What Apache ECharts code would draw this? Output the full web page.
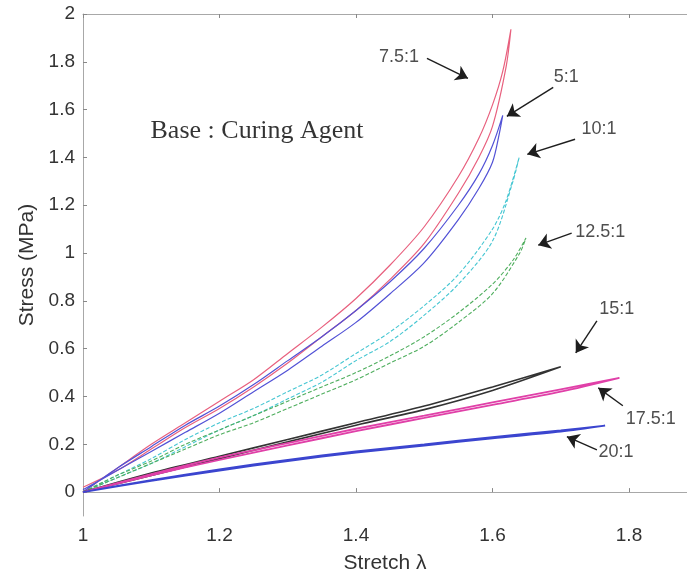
<!DOCTYPE html>
<html>
<head>
<meta charset="utf-8">
<title>Stress vs Stretch</title>
<script src="https://cdn.jsdelivr.net/npm/echarts@6/dist/echarts.min.js"></script>
<style>
  html, body { margin: 0; padding: 0; background: #fff; }
  #chart { width: 687px; height: 579px; }
</style>
</head>
<body>
<div id="chart"></div>
<script>
// Tick labels
const xTicks = [1, 1.2, 1.4, 1.6, 1.8];
const yTicks = [0, 0.2, 0.4, 0.6, 0.8, 1, 1.2, 1.4, 1.6, 1.8, 2];

// Base : curing agent ratios
const ratios = ['7.5:1', '5:1', '10:1', '12.5:1', '15:1', '17.5:1', '20:1'];

// Loading branch [stretch, stress MPa] and unloading branch for each ratio
const load75 = [[1.0,0.0],[1.05,0.10],[1.1,0.20],[1.15,0.29],[1.2,0.38],[1.25,0.47],[1.3,0.58],[1.35,0.69],[1.4,0.81],[1.45,0.95],[1.5,1.11],[1.55,1.32],[1.58,1.48],[1.6,1.62],[1.615,1.76],[1.627,1.936]];
const unload75 = [[1.627,1.936],[1.62,1.78],[1.6,1.53],[1.58,1.40],[1.55,1.25],[1.5,1.04],[1.45,0.89],[1.4,0.76],[1.35,0.65],[1.3,0.54],[1.25,0.44],[1.2,0.35],[1.15,0.27],[1.1,0.18],[1.05,0.09],[1.0,0.02]];

const load5 = [[1.0,0.0],[1.05,0.10],[1.1,0.19],[1.15,0.28],[1.2,0.36],[1.25,0.45],[1.3,0.55],[1.35,0.65],[1.4,0.76],[1.45,0.88],[1.5,1.02],[1.55,1.20],[1.58,1.33],[1.6,1.45],[1.615,1.576]];
const unload5 = [[1.615,1.576],[1.61,1.50],[1.6,1.38],[1.58,1.27],[1.55,1.14],[1.5,0.96],[1.45,0.83],[1.4,0.71],[1.35,0.61],[1.3,0.51],[1.25,0.42],[1.2,0.33],[1.15,0.25],[1.1,0.17],[1.05,0.09],[1.0,0.01]];

const load10 = [[1.0,0.0],[1.05,0.07],[1.1,0.14],[1.15,0.22],[1.2,0.29],[1.25,0.35],[1.3,0.42],[1.35,0.49],[1.4,0.58],[1.45,0.67],[1.5,0.78],[1.55,0.91],[1.6,1.10],[1.62,1.22],[1.639,1.40]];
const unload10 = [[1.639,1.40],[1.63,1.30],[1.6,1.05],[1.55,0.87],[1.5,0.74],[1.45,0.63],[1.4,0.55],[1.35,0.46],[1.3,0.39],[1.25,0.32],[1.2,0.26],[1.15,0.19],[1.1,0.12],[1.05,0.06],[1.0,0.0]];

const load125 = [[1.0,0.0],[1.05,0.07],[1.1,0.13],[1.15,0.20],[1.2,0.26],[1.25,0.32],[1.3,0.38],[1.35,0.44],[1.4,0.50],[1.45,0.57],[1.5,0.65],[1.55,0.75],[1.6,0.87],[1.63,0.97],[1.649,1.063]];
const unload125 = [[1.649,1.063],[1.64,1.0],[1.6,0.83],[1.55,0.71],[1.5,0.61],[1.45,0.54],[1.4,0.47],[1.35,0.41],[1.3,0.35],[1.25,0.29],[1.2,0.24],[1.15,0.18],[1.1,0.12],[1.05,0.06],[1.0,0.0]];

const load15 = [[1.0,0.0],[1.1,0.08],[1.2,0.15],[1.3,0.22],[1.4,0.29],[1.5,0.36],[1.6,0.44],[1.7,0.524]];
const unload15 = [[1.7,0.524],[1.6,0.425],[1.5,0.345],[1.4,0.28],[1.3,0.21],[1.2,0.14],[1.1,0.07],[1.0,0.0]];

const load175 = [[1.0,0.0],[1.1,0.075],[1.2,0.145],[1.3,0.205],[1.4,0.265],[1.5,0.32],[1.6,0.375],[1.7,0.43],[1.786,0.478]];
const unload175 = [[1.786,0.478],[1.7,0.42],[1.6,0.365],[1.5,0.31],[1.4,0.255],[1.3,0.195],[1.2,0.135],[1.1,0.07],[1.0,0.0]];

const load20 = [[1.0,0.0],[1.1,0.05],[1.2,0.095],[1.3,0.135],[1.4,0.17],[1.5,0.20],[1.6,0.23],[1.7,0.258],[1.765,0.278]];
const unload20 = [[1.765,0.278],[1.7,0.253],[1.6,0.225],[1.5,0.195],[1.4,0.165],[1.3,0.13],[1.2,0.09],[1.1,0.047],[1.0,0.0]];

const loops = [
  [load75, unload75], [load5, unload5], [load10, unload10], [load125, unload125],
  [load15, unload15], [load175, unload175], [load20, unload20]
];

// Drawing styles per ratio
const styles = [
  { color: '#e8607e', width: 1.2, type: 'solid' },
  { color: '#5252d6', width: 1.2, type: 'solid' },
  { color: '#45c6d2', width: 1.1, type: [4, 2] },
  { color: '#4fae5e', width: 1.1, type: [4, 2] },
  { color: '#333333', width: 1.6, type: 'solid' },
  { color: '#e040a8', width: 1.8, type: 'solid' },
  { color: '#3b45cf', width: 1.8, type: 'solid' }
];

// Callout layout in chart units: label centre, arrow tail, arrow head
const callouts = [
  { text: '7.5:1',  at: [1.463, 1.818], from: [1.504, 1.814], to: [1.564, 1.731] },
  { text: '5:1',    at: [1.708, 1.735], from: [1.689, 1.693], to: [1.621, 1.572] },
  { text: '10:1',   at: [1.756, 1.518], from: [1.721, 1.476], to: [1.651, 1.413] },
  { text: '12.5:1', at: [1.758, 1.088], from: [1.716, 1.083], to: [1.667, 1.033] },
  { text: '15:1',   at: [1.782, 0.766], from: [1.753, 0.716], to: [1.722, 0.582] },
  { text: '17.5:1', at: [1.832, 0.307], from: [1.791, 0.361], to: [1.755, 0.436] },
  { text: '20:1',   at: [1.781, 0.169], from: [1.753, 0.177], to: [1.709, 0.232] }
];
const title = { text: 'Base : Curing Agent', at: [1.255, 1.509] };

const axisGray = '#a8a8a8';
const labelFont = { fontFamily: 'Liberation Sans, Arial, sans-serif', color: '#333', fontSize: 19 };

const series = loops.map(([ld, ul], i) => ({
  name: ratios[i],
  type: 'line',
  data: ld.concat(ul.slice(1)),
  showSymbol: false,
  smooth: 0.3,
  lineStyle: { color: styles[i].color, width: styles[i].width, type: styles[i].type },
  z: 3,
  animation: false
}));

series.push({
  type: 'lines',
  coordinateSystem: 'cartesian2d',
  symbol: ['none', 'arrow'],
  symbolSize: 12,
  lineStyle: { color: '#1e1e1e', width: 1.4, opacity: 1 },
  data: callouts.map(c => ({ coords: [c.from, c.to] })),
  z: 4,
  animation: false
});

series.push({
  type: 'scatter',
  symbolSize: 0,
  data: callouts.map(c => ({ value: c.at, name: c.text })),
  label: {
    show: true, position: 'inside', formatter: '{b}',
    fontFamily: 'Liberation Sans, Arial, sans-serif', fontSize: 18, color: '#222'
  },
  silent: true, z: 5, animation: false
});

series.push({
  type: 'scatter',
  symbolSize: 0,
  data: [{ value: title.at, name: title.text }],
  label: {
    show: true, position: 'inside', formatter: '{b}',
    fontFamily: 'Liberation Serif, Times New Roman, serif', fontSize: 26, color: '#000'
  },
  silent: true, z: 5, animation: false
});

const chart = echarts.init(document.getElementById('chart'), null, { renderer: 'canvas' });
chart.setOption({
  backgroundColor: '#ffffff',
  animation: false,
  grid: { left: 83, top: 14, right: 0, bottom: 62, containLabel: false },
  xAxis: [{
    type: 'value', min: 1, max: 1.885,
    name: 'Stretch λ', nameLocation: 'middle', nameGap: 37,
    nameTextStyle: { fontFamily: 'Liberation Sans, Arial, sans-serif', fontSize: 21, color: '#333' },
    axisLine: { show: true, lineStyle: { color: axisGray, width: 1 } },
    axisTick: { show: true, inside: true, length: 4, customValues: xTicks, lineStyle: { color: '#888' } },
    axisLabel: Object.assign({ customValues: xTicks, margin: 10, formatter: v => String(+v.toFixed(1)) }, labelFont),
    splitLine: { show: false }
  }, {
    type: 'value', min: 1, max: 1.885, position: 'top',
    axisLine: { show: true, lineStyle: { color: axisGray, width: 1 } },
    axisTick: { show: true, inside: true, length: 4, customValues: xTicks, lineStyle: { color: '#888' } },
    axisLabel: { show: false },
    splitLine: { show: false }
  }],
  yAxis: [{
    type: 'value', min: -0.1, max: 2,
    name: 'Stress (MPa)', nameLocation: 'middle', nameGap: 44,
    nameTextStyle: { fontFamily: 'Liberation Sans, Arial, sans-serif', fontSize: 21, color: '#333' },
    axisLine: { show: true, lineStyle: { color: axisGray, width: 1 } },
    axisTick: { show: true, inside: true, length: 4, customValues: yTicks, lineStyle: { color: '#888' } },
    axisLabel: Object.assign({ customValues: yTicks, margin: 8, formatter: v => String(+v.toFixed(1)) }, labelFont),
    splitLine: { show: false }
  }],
  series: series
});
</script>
</body>
</html>
